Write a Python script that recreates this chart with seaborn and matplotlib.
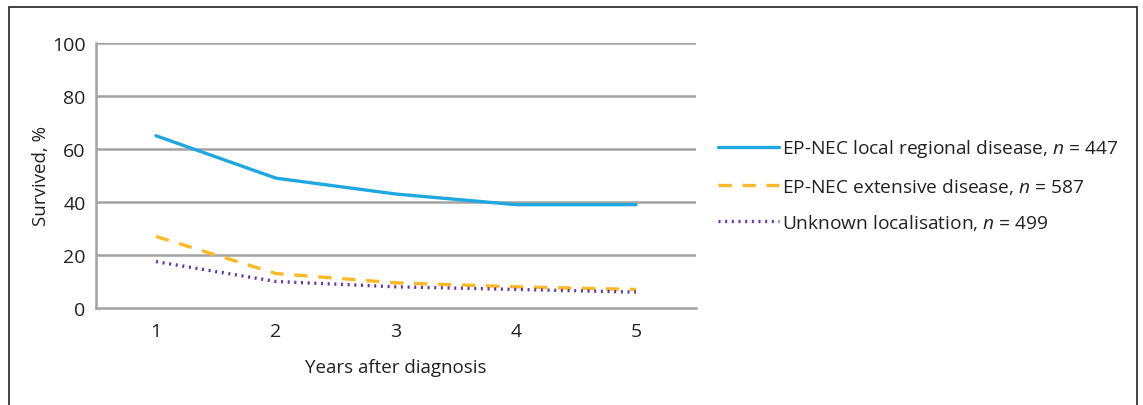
import matplotlib
matplotlib.use("Agg")
import matplotlib.pyplot as plt
import seaborn as sns
import pandas as pd
from matplotlib.patches import Rectangle

years = [1, 2, 3, 4, 5]
local_regional = [65, 49, 43, 39, 39]
extensive = [27, 13, 9.5, 8, 7]
unknown = [17.5, 10, 8, 7, 6]

series_names = [
    "EP-NEC local regional disease",
    "EP-NEC extensive disease",
    "Unknown localisation",
]
series_n = [447, 587, 499]
series_values = [local_regional, extensive, unknown]
y_ticks = [0, 20, 40, 60, 80, 100]

sns.set_theme(style="white")
plt.rcParams["font.family"] = ["Open Sans", "DejaVu Sans"]
plt.rcParams["mathtext.fontset"] = "custom"
plt.rcParams["mathtext.it"] = "Open Sans:italic"
plt.rcParams["mathtext.rm"] = "Open Sans"

rows = []
for name, vals in zip(series_names, series_values):
    for yr, v in zip(years, vals):
        rows.append({"year": yr, "survived": v, "group": name})
df = pd.DataFrame(rows)

colors = {
    series_names[0]: "#1fa8e0",
    series_names[1]: "#fdb92a",
    series_names[2]: "#6236a0",
}
dashes = {
    series_names[0]: "",
    series_names[1]: (4, 3.2),
    series_names[2]: (0.6, 1.4),
}

TICK_FS = 14
LABEL_FS = 13.5
LEGEND_FS = 13.8
text_color = "#222222"

fig = plt.figure(figsize=(11.43, 4.06), dpi=100)
ax = fig.add_axes([96 / 1143, 1 - 309 / 406, 600 / 1143, 265 / 406])

sns.lineplot(data=df, x="year", y="survived", hue="group", style="group",
             palette=colors, dashes=dashes, linewidth=2.4, ax=ax, legend=False)

grid_color = "#a3a3a3"
ax.set_xlim(0.5, 5.5)
ax.set_ylim(0, 100)
ax.set_yticks(y_ticks)
ax.set_xticks(years)
ax.tick_params(axis="both", labelsize=TICK_FS, colors=text_color, length=0)
ax.set_xticks([0.5 + i for i in range(6)], minor=True)
ax.tick_params(axis="x", which="minor", length=4.5, width=1.6, color=grid_color, direction="out")
ax.tick_params(axis="y", which="major", length=4.5, width=1.6, color=grid_color, direction="out", pad=3)
ax.tick_params(axis="x", which="major", pad=10)
for y in y_ticks[1:]:
    ax.axhline(y, color=grid_color, linewidth=1.8, zorder=0.5)
for side in ["top", "right"]:
    ax.spines[side].set_visible(False)
for side in ["left", "bottom"]:
    ax.spines[side].set_color(grid_color)
    ax.spines[side].set_linewidth(1.8)

ax.set_xlabel("Years after diagnosis", fontsize=LABEL_FS, color=text_color, labelpad=13)
ax.set_ylabel("Survived, %", fontsize=LABEL_FS, color=text_color, labelpad=1.5)

handles = ax.get_lines()[:3]
labels = [f"{name}, $n$ = {n}" for name, n in zip(series_names, series_n)]
leg = fig.legend(handles, labels, loc="upper left", bbox_to_anchor=(701 / 1143, 1 - 121 / 406),
                 frameon=False, fontsize=LEGEND_FS, handlelength=3.15, handletextpad=0.15,
                 labelspacing=0.85)
for t in leg.get_texts():
    t.set_color(text_color)

fig.patches.append(Rectangle((9 / 1143, -0.05), 1128 / 1143, 1.05 - 8 / 406,
                             transform=fig.transFigure, fill=False,
                             edgecolor="#222222", linewidth=1.2))

fig.savefig("out.png", dpi=100)
